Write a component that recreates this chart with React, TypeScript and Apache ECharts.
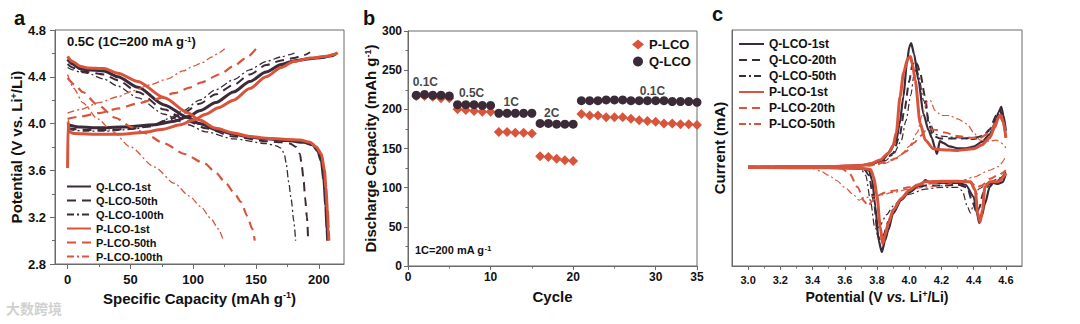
import React, { useEffect, useRef } from 'react';
import * as echarts from 'echarts';

const DARK = '#3b2a38';
const RED = '#d8553c';
const FRAME = '#6a6a6a';
const FONT = '"Liberation Sans", Arial, sans-serif';

// ---------- Panel a : charge / discharge curves [capacity mAh/g, potential V] ----------
const qa1Charge = [[0,3.99],[10,3.97],[25,3.965],[43,3.97],[69,3.99],[85,4.02],[96,4.06],[105,4.11],[118,4.18],[132,4.27],[145,4.36],[158,4.44],[170,4.505],[180,4.535],[193,4.555],[203,4.565],[210,4.58],[214,4.6]];
const qa1Dis = [[0,4.55],[4,4.51],[10,4.47],[16,4.46],[29,4.45],[40,4.40],[56,4.31],[77,4.16],[96,4.05],[105,4.0],[118,3.95],[132,3.91],[145,3.885],[158,3.87],[175,3.855],[188,3.84],[195,3.82],[199,3.77],[202,3.68],[204,3.52],[205.5,3.3],[206.5,3.1],[207,3.0]];
const qa50Charge = [[0,3.96],[15,3.945],[30,3.945],[50,3.955],[65,3.975],[80,4.03],[92,4.09],[105,4.17],[118,4.25],[132,4.33],[145,4.42],[158,4.50],[170,4.54],[180,4.56],[188,4.585],[193,4.61]];
const qa50Dis = [[0,4.51],[4,4.48],[10,4.45],[16,4.44],[29,4.42],[40,4.37],[56,4.27],[77,4.12],[96,4.02],[110,3.96],[132,3.89],[158,3.85],[170,3.84],[177,3.83],[182,3.8],[185,3.74],[186.5,3.63],[188,3.5],[189,3.37],[190.5,3.2],[191.5,3.0]];
const qa100Charge = [[0,3.95],[15,3.935],[30,3.935],[50,3.95],[65,3.975],[80,4.04],[92,4.11],[105,4.2],[118,4.29],[132,4.375],[145,4.46],[158,4.53],[170,4.57],[177,4.59],[182,4.61]];
const qa100Dis = [[0,4.48],[4,4.46],[10,4.44],[16,4.43],[29,4.38],[40,4.32],[56,4.22],[77,4.08],[96,3.99],[110,3.93],[132,3.87],[158,3.83],[166,3.81],[170,3.79],[172.5,3.74],[174,3.66],[176,3.5],[178,3.35],[180,3.17],[181.5,3.0]];
const pa1Charge = [[0,3.62],[0.4,4.02],[1.2,3.93],[5,3.915],[20,3.91],[43,3.91],[60,3.925],[75,3.95],[90,3.99],[100,4.03],[110,4.08],[120,4.135],[132,4.2],[145,4.3],[158,4.4],[170,4.48],[180,4.53],[193,4.56],[206,4.575],[212,4.59],[215,4.605]];
const pa1Dis = [[0,4.575],[4,4.53],[10,4.49],[16,4.475],[29,4.47],[40,4.43],[56,4.36],[77,4.22],[96,4.09],[105,4.03],[118,3.96],[132,3.92],[145,3.89],[158,3.875],[175,3.865],[185,3.86],[193,3.84],[198,3.8],[202,3.74],[204.5,3.6],[205.6,3.45],[206.8,3.26],[207.6,3.1],[208,3.0]];
const pa50Charge = [[0,4.04],[10,4.06],[25,4.09],[41,4.13],[55,4.17],[70,4.21],[85,4.26],[98,4.31],[106,4.35],[121,4.42],[132,4.49],[142,4.56],[150,4.64]];
const pa50Dis = [[0,4.39],[6,4.33],[12,4.27],[24,4.16],[38,4.05],[51,3.97],[61,3.92],[77,3.83],[93,3.74],[109,3.66],[118,3.58],[126,3.49],[133,3.4],[138,3.33],[143,3.21],[147,3.1],[149,3.0]];
const pa100Charge = [[0,4.09],[10,4.12],[25,4.18],[40,4.23],[52,4.28],[65,4.33],[79,4.38],[92,4.45],[100,4.49],[107,4.52],[115,4.57],[121,4.61],[125,4.64]];
const pa100Dis = [[0,4.42],[5,4.3],[12,4.18],[24,4.04],[36,3.93],[50,3.8],[69,3.63],[85,3.49],[97,3.38],[106,3.29],[114,3.19],[120,3.1],[124,3.0]];

const aXLabels = [0, 50, 100, 150, 200];
const aXMinor = [25, 75, 125, 175];

// ---------- Panel b : rate capability ----------
const cycles = [1,2,3,4,5,6,7,8,9,10,11,12,13,14,15,16,17,18,19,20,21,22,23,24,25,26,27,28,29,30,31,32,33,34,35];
const pLcoCap = [217,217,216,214,214,200,199,198,197,197,171,171,170,170,169,140,139,137,135,134,194,192,192,190,190,190,188,186,185,184,182,182,181,181,180];
const qLcoCap = [218,219,218,218,217,206,206,206,205,205,195,195,195,195,195,182,182,181,181,181,211,211,211,212,212,212,211,211,211,211,211,210,210,210,209];
const rateLabels = [
  { name: '0.1C', value: [2.1, 235] },
  { name: '0.5C', value: [7.7, 221] },
  { name: '1C', value: [12.5, 209] },
  { name: '2C', value: [17.4, 195] },
  { name: '0.1C', value: [29.6, 224] },
];

// ---------- Panel c : CV curves [potential V, current mA] ----------
const qc1Up = [[3.0,0],[3.5,0.002],[3.7,0.008],[3.78,0.02],[3.84,0.045],[3.88,0.09],[3.92,0.156],[3.94,0.25],[3.964,0.41],[3.985,0.6],[4.0,0.7],[4.012,0.724],[4.03,0.66],[4.057,0.507],[4.088,0.31],[4.12,0.215],[4.14,0.17],[4.16,0.11],[4.172,0.075],[4.19,0.15],[4.21,0.14],[4.25,0.12],[4.3,0.108],[4.35,0.108],[4.4,0.118],[4.45,0.146],[4.5,0.19],[4.53,0.25],[4.555,0.32],[4.571,0.35],[4.585,0.3],[4.6,0.21]];
const qc1Down = [[3.0,-0.004],[3.5,-0.006],[3.7,-0.01],[3.75,-0.02],[3.77,-0.078],[3.79,-0.234],[3.81,-0.43],[3.83,-0.498],[3.85,-0.43],[3.87,-0.37],[3.9,-0.273],[3.95,-0.195],[4.0,-0.146],[4.07,-0.107],[4.1,-0.078],[4.12,-0.088],[4.2,-0.094],[4.3,-0.094],[4.35,-0.105],[4.4,-0.176],[4.42,-0.27],[4.435,-0.328],[4.45,-0.29],[4.47,-0.215],[4.5,-0.117],[4.52,-0.094],[4.55,-0.1],[4.58,-0.09],[4.6,-0.039]];
const qc20Up = [[3.0,0],[3.6,0.002],[3.75,0.012],[3.85,0.04],[3.9,0.08],[3.94,0.18],[3.97,0.33],[4.0,0.5],[4.02,0.6],[4.035,0.62],[4.05,0.6],[4.068,0.547],[4.099,0.41],[4.12,0.254],[4.15,0.18],[4.19,0.166],[4.3,0.165],[4.4,0.17],[4.46,0.18],[4.5,0.22],[4.54,0.3],[4.565,0.33],[4.58,0.28],[4.6,0.18]];
const qc20Down = [[3.0,-0.004],[3.6,-0.006],[3.72,-0.012],[3.75,-0.05],[3.78,-0.2],[3.805,-0.4],[3.82,-0.43],[3.84,-0.4],[3.87,-0.32],[3.9,-0.25],[3.95,-0.19],[4.0,-0.15],[4.05,-0.12],[4.1,-0.11],[4.2,-0.11],[4.3,-0.105],[4.36,-0.12],[4.39,-0.2],[4.42,-0.27],[4.435,-0.24],[4.46,-0.15],[4.5,-0.1],[4.55,-0.08],[4.6,-0.035]];
const qc50Up = [[3.0,0],[3.6,0.002],[3.75,0.01],[3.85,0.035],[3.9,0.07],[3.95,0.15],[3.98,0.27],[4.01,0.42],[4.03,0.54],[4.045,0.58],[4.06,0.53],[4.088,0.39],[4.13,0.255],[4.16,0.19],[4.2,0.18],[4.3,0.17],[4.4,0.16],[4.45,0.17],[4.5,0.21],[4.54,0.28],[4.56,0.31],[4.58,0.26],[4.6,0.16]];
const qc50Down = [[3.0,-0.004],[3.6,-0.006],[3.7,-0.012],[3.73,-0.05],[3.76,-0.2],[3.785,-0.35],[3.8,-0.37],[3.82,-0.34],[3.86,-0.28],[3.9,-0.23],[3.95,-0.19],[4.0,-0.16],[4.1,-0.13],[4.2,-0.12],[4.3,-0.12],[4.33,-0.14],[4.36,-0.23],[4.38,-0.27],[4.4,-0.22],[4.43,-0.13],[4.5,-0.09],[4.55,-0.07],[4.6,-0.03]];
const pc1Up = [[3.0,0],[3.5,0.002],[3.7,0.008],[3.76,0.018],[3.82,0.04],[3.87,0.08],[3.9,0.125],[3.92,0.2],[3.943,0.41],[3.965,0.55],[3.99,0.63],[4.008,0.645],[4.02,0.6],[4.037,0.507],[4.068,0.254],[4.1,0.156],[4.15,0.105],[4.2,0.1],[4.3,0.096],[4.4,0.105],[4.45,0.127],[4.5,0.17],[4.53,0.23],[4.555,0.29],[4.568,0.3],[4.585,0.26],[4.6,0.17]];
const pc1Down = [[3.0,-0.004],[3.5,-0.006],[3.7,-0.008],[3.76,-0.015],[3.78,-0.06],[3.8,-0.17],[3.82,-0.35],[3.835,-0.45],[3.85,-0.4],[3.87,-0.33],[3.9,-0.254],[3.95,-0.185],[4.0,-0.137],[4.05,-0.107],[4.1,-0.088],[4.2,-0.084],[4.3,-0.084],[4.38,-0.088],[4.41,-0.137],[4.425,-0.27],[4.44,-0.322],[4.455,-0.25],[4.47,-0.117],[4.5,-0.088],[4.55,-0.088],[4.6,-0.039]];
const pc20Up = [[3.0,0],[3.6,0.002],[3.75,0.008],[3.85,0.025],[3.92,0.05],[3.98,0.09],[4.03,0.14],[4.07,0.18],[4.1,0.21],[4.13,0.22],[4.17,0.215],[4.22,0.2],[4.3,0.18],[4.38,0.17],[4.44,0.17],[4.5,0.2],[4.54,0.27],[4.56,0.3],[4.58,0.26],[4.6,0.17]];
const pc20Down = [[3.0,-0.004],[3.5,-0.006],[3.58,-0.01],[3.63,-0.04],[3.68,-0.12],[3.72,-0.2],[3.745,-0.23],[3.77,-0.2],[3.8,-0.17],[3.85,-0.15],[3.9,-0.14],[4.0,-0.12],[4.1,-0.1],[4.2,-0.09],[4.3,-0.085],[4.38,-0.09],[4.42,-0.12],[4.45,-0.11],[4.5,-0.07],[4.55,-0.05],[4.6,-0.02]];
const pc50Up = [[3.0,0],[3.6,0.002],[3.75,0.006],[3.85,0.02],[3.9,0.04],[3.95,0.07],[4.0,0.12],[4.05,0.2],[4.08,0.3],[4.11,0.38],[4.13,0.39],[4.16,0.33],[4.2,0.3],[4.25,0.3],[4.3,0.28],[4.36,0.25],[4.4,0.2],[4.44,0.156],[4.5,0.15],[4.54,0.156],[4.57,0.14],[4.6,0.11]];
const pc50Down = [[3.0,-0.002],[3.35,-0.004],[3.4,-0.01],[3.45,-0.025],[3.5,-0.05],[3.55,-0.08],[3.6,-0.12],[3.65,-0.16],[3.69,-0.195],[3.72,-0.18],[3.8,-0.17],[3.9,-0.15],[4.0,-0.13],[4.1,-0.12],[4.2,-0.11],[4.3,-0.09],[4.4,-0.06],[4.5,-0.02],[4.55,0.0],[4.6,0.06]];

const cXLabels = [3.0, 3.2, 3.4, 3.6, 3.8, 4.0, 4.2, 4.4, 4.6];
const cXMinor = [3.1, 3.3, 3.5, 3.7, 3.9, 4.1, 4.3, 4.5];

const DASH = [9, 6];
const DASHDOT = [7, 3, 2, 3];

const sup = { fontSize: 9, fontWeight: 'bold', fontFamily: FONT, color: '#111', verticalAlign: 'top', lineHeight: 10 };

function line(name: string, data: number[][], color: string, width: number, type: any, xi: number, yi: number, z: number) {
  return {
    type: 'line', name, data, xAxisIndex: xi, yAxisIndex: yi,
    symbol: 'none', showSymbol: false, smooth: 0.25, smoothMonotone: 'x',
    lineStyle: { color, width, type }, itemStyle: { color }, z, silent: true,
  };
}

const tickLabel = (size: number) => ({ color: '#111', fontWeight: 'bold', fontSize: size, fontFamily: FONT });
const axLine = { show: true, onZero: false, lineStyle: { color: FRAME } };

export default function App() {
  const ref = useRef<HTMLDivElement>(null);
  useEffect(() => {
    const chart = echarts.init(ref.current!, null, { renderer: 'svg' });
    const option: any = {
      animation: false,
      backgroundColor: '#fff',
      textStyle: { fontFamily: FONT },
      grid: [
        { left: 55, top: 30, width: 289, height: 234, show: true, borderColor: FRAME, borderWidth: 1 },
        { left: 408, top: 31, width: 289, height: 235, show: true, borderColor: FRAME, borderWidth: 1 },
        { left: 732, top: 30, width: 290, height: 236, show: true, borderColor: FRAME, borderWidth: 1 },
      ],
      xAxis: [
        {
          type: 'value', gridIndex: 0, min: -10, max: 220, position: 'bottom',
          axisLine: axLine,
          axisTick: { show: true, length: 5, customValues: aXLabels, lineStyle: { color: FRAME } },
          axisLabel: { ...tickLabel(13), margin: 9, customValues: aXLabels },
          splitLine: { show: false },
          name: 'Specific Capacity (mAh g{sup|-1})', nameLocation: 'middle', nameGap: 17,
          nameTextStyle: { fontSize: 15, fontWeight: 'bold', color: '#111', fontFamily: FONT, rich: { sup } },
        },
        {
          type: 'value', gridIndex: 0, min: -10, max: 220, position: 'bottom',
          axisLine: { show: false, onZero: false },
          axisTick: { show: true, length: 3, customValues: aXMinor, lineStyle: { color: FRAME } },
          axisLabel: { show: false }, splitLine: { show: false },
        },
        {
          type: 'value', gridIndex: 1, min: 0, max: 35, interval: 10, position: 'bottom',
          axisLine: axLine,
          axisTick: { show: true, length: 4, lineStyle: { color: FRAME } },
          minorTick: { show: true, splitNumber: 2, length: 2.5, lineStyle: { color: FRAME } },
          axisLabel: { ...tickLabel(12), margin: 5 },
          splitLine: { show: false },
          name: 'Cycle', nameLocation: 'middle', nameGap: 23,
          nameTextStyle: { fontSize: 15, fontWeight: 'bold', color: '#111', fontFamily: FONT },
        },
        {
          type: 'value', gridIndex: 2, min: 2.9, max: 4.7, position: 'bottom',
          axisLine: axLine,
          axisTick: { show: true, length: 4, customValues: cXLabels, lineStyle: { color: FRAME } },
          axisLabel: { ...tickLabel(11), margin: 8, customValues: cXLabels, formatter: (v: number) => v.toFixed(1) },
          splitLine: { show: false },
          name: 'Potential (V {it|vs.} Li{sup|+}/Li)', nameLocation: 'middle', nameGap: 23,
          nameTextStyle: {
            fontSize: 14, fontWeight: 'bold', color: '#111', fontFamily: FONT,
            rich: { sup, it: { fontSize: 14, fontWeight: 'bold', fontStyle: 'italic', color: '#111', fontFamily: FONT } },
          },
        },
        {
          type: 'value', gridIndex: 2, min: 2.9, max: 4.7, position: 'bottom',
          axisLine: { show: false, onZero: false },
          axisTick: { show: true, length: 2.5, customValues: cXMinor, lineStyle: { color: FRAME } },
          axisLabel: { show: false }, splitLine: { show: false },
        },
      ],
      yAxis: [
        {
          type: 'value', gridIndex: 0, min: 2.8, max: 4.8, interval: 0.4,
          axisLine: axLine,
          axisTick: { show: true, length: 5, lineStyle: { color: FRAME } },
          minorTick: { show: true, splitNumber: 2, length: 3, lineStyle: { color: FRAME } },
          axisLabel: { ...tickLabel(13), margin: 9, formatter: (v: number) => v.toFixed(1) },
          splitLine: { show: false },
          name: 'Potential (V vs. Li{sup|+}/Li)', nameLocation: 'middle', nameGap: 22,
          nameTextStyle: { fontSize: 15, fontWeight: 'bold', color: '#111', fontFamily: FONT, rich: { sup } },
        },
        {
          type: 'value', gridIndex: 1, min: 0, max: 300, interval: 50,
          axisLine: axLine,
          axisTick: { show: true, length: 4, lineStyle: { color: FRAME } },
          minorTick: { show: true, splitNumber: 2, length: 2.5, lineStyle: { color: FRAME } },
          axisLabel: { ...tickLabel(12), margin: 6 },
          splitLine: { show: false },
          name: 'Discharge Capacity (mAh g{sup|-1})', nameLocation: 'middle', nameGap: 26,
          nameTextStyle: { fontSize: 15, fontWeight: 'bold', color: '#111', fontFamily: FONT, rich: { sup } },
        },
        {
          type: 'value', gridIndex: 2, min: -0.58, max: 0.8,
          axisLine: axLine,
          axisTick: { show: false }, axisLabel: { show: false }, splitLine: { show: false },
          name: 'Current (mA)', nameLocation: 'middle', nameGap: 5,
          nameTextStyle: { fontSize: 15, fontWeight: 'bold', color: '#111', fontFamily: FONT },
        },
      ],
      legend: [
        {
          data: ['a:Q-LCO-1st', 'a:Q-LCO-50th', 'a:Q-LCO-100th', 'a:P-LCO-1st', 'a:P-LCO-50th', 'a:P-LCO-100th'],
          formatter: (n: string) => n.slice(2),
          orient: 'vertical', left: 61, top: 176, itemWidth: 24, itemHeight: 10, itemGap: 3,
          itemStyle: { opacity: 0, borderWidth: 0 },
          textStyle: { fontSize: 11, fontWeight: 'bold', color: '#111', fontFamily: FONT },
          selectedMode: false,
        },
        {
          data: ['P-LCO', 'Q-LCO'],
          orient: 'vertical', left: 627, top: 33, itemWidth: 12, itemHeight: 10, itemGap: 4,
          textStyle: { fontSize: 13, fontWeight: 'bold', color: '#111', fontFamily: FONT },
          selectedMode: false,
        },
        {
          data: ['c:Q-LCO-1st', 'c:Q-LCO-20th', 'c:Q-LCO-50th', 'c:P-LCO-1st', 'c:P-LCO-20th', 'c:P-LCO-50th'],
          formatter: (n: string) => n.slice(2),
          orient: 'vertical', left: 733, top: 33, itemWidth: 25, itemHeight: 10, itemGap: 4,
          itemStyle: { opacity: 0, borderWidth: 0 },
          textStyle: { fontSize: 12, fontWeight: 'bold', color: '#111', fontFamily: FONT },
          selectedMode: false,
        },
      ],
      series: [
        // panel a (dark first, red on top)
        line('a:Q-LCO-1st', qa1Charge, DARK, 3, 'solid', 0, 0, 3),
        line('a:Q-LCO-1st', qa1Dis, DARK, 3, 'solid', 0, 0, 3),
        line('a:Q-LCO-50th', qa50Charge, DARK, 2, DASH, 0, 0, 3),
        line('a:Q-LCO-50th', qa50Dis, DARK, 2, DASH, 0, 0, 3),
        line('a:Q-LCO-100th', qa100Charge, DARK, 1.3, DASHDOT, 0, 0, 3),
        line('a:Q-LCO-100th', qa100Dis, DARK, 1.3, DASHDOT, 0, 0, 3),
        line('a:P-LCO-1st', pa1Charge, RED, 3, 'solid', 0, 0, 4),
        line('a:P-LCO-1st', pa1Dis, RED, 3, 'solid', 0, 0, 4),
        line('a:P-LCO-50th', pa50Charge, RED, 2.2, DASH, 0, 0, 4),
        line('a:P-LCO-50th', pa50Dis, RED, 2.2, DASH, 0, 0, 4),
        line('a:P-LCO-100th', pa100Charge, RED, 1.3, DASHDOT, 0, 0, 4),
        line('a:P-LCO-100th', pa100Dis, RED, 1.3, DASHDOT, 0, 0, 4),
        // panel b
        {
          type: 'scatter', name: 'P-LCO', xAxisIndex: 2, yAxisIndex: 1, symbol: 'diamond', symbolSize: 10,
          data: cycles.map((c, i) => [c, pLcoCap[i]]), itemStyle: { color: RED, opacity: 1 }, z: 3, silent: true,
        },
        {
          type: 'scatter', name: 'Q-LCO', xAxisIndex: 2, yAxisIndex: 1, symbol: 'circle', symbolSize: 9,
          data: cycles.map((c, i) => [c, qLcoCap[i]]), itemStyle: { color: DARK, opacity: 1 }, z: 4, silent: true,
        },
        {
          type: 'scatter', name: 'rate-labels', xAxisIndex: 2, yAxisIndex: 1, symbolSize: 0, silent: true,
          data: rateLabels,
          label: { show: true, position: 'inside', formatter: (p: any) => p.name, fontSize: 12, fontWeight: 'bold', color: '#111', fontFamily: FONT },
        },
        // panel c
        line('c:Q-LCO-1st', qc1Up, DARK, 2.2, 'solid', 3, 2, 3),
        line('c:Q-LCO-1st', qc1Down, DARK, 2.2, 'solid', 3, 2, 3),
        line('c:Q-LCO-20th', qc20Up, DARK, 2, [8, 5], 3, 2, 3),
        line('c:Q-LCO-20th', qc20Down, DARK, 2, [8, 5], 3, 2, 3),
        line('c:Q-LCO-50th', qc50Up, DARK, 1.2, DASHDOT, 3, 2, 3),
        line('c:Q-LCO-50th', qc50Down, DARK, 1.2, DASHDOT, 3, 2, 3),
        line('c:P-LCO-1st', pc1Up, RED, 3, 'solid', 3, 2, 4),
        line('c:P-LCO-1st', pc1Down, RED, 3, 'solid', 3, 2, 4),
        line('c:P-LCO-20th', pc20Up, RED, 2, [8, 5], 3, 2, 4),
        line('c:P-LCO-20th', pc20Down, RED, 2, [8, 5], 3, 2, 4),
        line('c:P-LCO-50th', pc50Up, RED, 1.2, DASHDOT, 3, 2, 4),
        line('c:P-LCO-50th', pc50Down, RED, 1.2, DASHDOT, 3, 2, 4),
      ],
      graphic: [
        { type: 'text', left: 14, top: 8, style: { text: 'a', font: `bold 20px ${FONT}`, fill: '#111' } },
        { type: 'text', left: 363, top: 8, style: { text: 'b', font: `bold 20px ${FONT}`, fill: '#111' } },
        { type: 'text', left: 712, top: 4, style: { text: 'c', font: `bold 20px ${FONT}`, fill: '#111' } },
        {
          type: 'text', left: 67, top: 35, z: 10,
          style: {
            text: '0.5C (1C=200 mA g{sup|-1})', font: `bold 13px ${FONT}`, fill: '#111',
            rich: { sup: { ...sup, fontSize: 8 } },
          },
        },
        {
          type: 'text', left: 415, top: 244, z: 10,
          style: {
            text: '1C=200 mA g{sup|-1}', font: `bold 11px ${FONT}`, fill: '#111',
            rich: { sup: { ...sup, fontSize: 8 } },
          },
        },
        {
          type: 'text', left: 6, top: 301, z: 20,
          style: { text: '大数跨境', font: `bold 14px "Noto Sans CJK SC"`, fill: 'rgba(200,200,200,0.85)' },
        },
      ],
    };
    chart.setOption(option);
    return () => chart.dispose();
  }, []);
  return <div ref={ref} style={{ position: 'fixed', left: 0, top: 0, width: 1080, height: 324, background: '#fff' }} />;
}
